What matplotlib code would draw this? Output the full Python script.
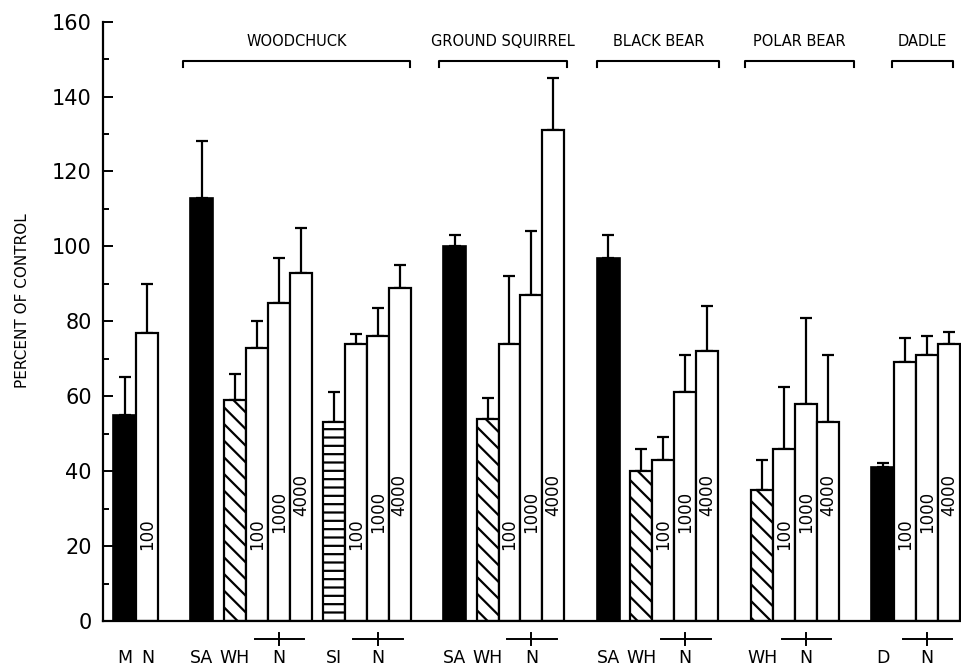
import numpy as np
import matplotlib
matplotlib.use('Agg')
import matplotlib.pyplot as plt

plt.rcParams['font.family'] = 'DejaVu Sans'
plt.rcParams['hatch.linewidth'] = 1.6
plt.rcParams['hatch.color'] = 'black'

# data
groups = ['control'] * 2 + ['WOODCHUCK'] * 9 + ['GROUND SQUIRREL'] * 5 + \
         ['BLACK BEAR'] * 5 + ['POLAR BEAR'] * 4 + ['DADLE'] * 4
bar_types = ['M', 'N',
             'SA', 'WH', 'N', 'N', 'N', 'SI', 'N', 'N', 'N',
             'SA', 'WH', 'N', 'N', 'N',
             'SA', 'WH', 'N', 'N', 'N',
             'WH', 'N', 'N', 'N',
             'D', 'N', 'N', 'N']
doses = ['', '100',
         '', '', '100', '1000', '4000', '', '100', '1000', '4000',
         '', '', '100', '1000', '4000',
         '', '', '100', '1000', '4000',
         '', '100', '1000', '4000',
         '', '100', '1000', '4000']
values = [55, 77,
          113, 59, 73, 85, 93, 53, 74, 76, 89,
          100, 54, 74, 87, 131,
          97, 40, 43, 61, 72,
          35, 46, 58, 53,
          41, 69, 71, 74]
errors = [10, 13,
          15, 7, 7, 12, 12, 8, 2.5, 7.5, 6,
          3, 5.5, 18, 17, 14,
          6, 6, 6, 10, 12,
          8, 16.5, 23, 18,
          1.2, 6.5, 5, 3.2]
group_names = ['WOODCHUCK', 'GROUND SQUIRREL', 'BLACK BEAR', 'POLAR BEAR', 'DADLE']

# x layout: adjacent bars touch, gap inside a group, wider gap between groups
x = [1.0]
for i in range(1, len(values)):
    if groups[i] != groups[i - 1]:
        step = 2.5
    elif bar_types[i] != 'N' and bar_types[i - 1] != 'N' or (bar_types[i] == 'SI'):
        step = 1.5
    else:
        step = 1.0
    x.append(x[-1] + step)
x = np.array(x)

# bracket overhang (left, right) relative to first/last bar centre
bracket_pad = {'WOODCHUCK': (0.85, 0.45), 'GROUND SQUIRREL': (0.7, 0.6),
               'BLACK BEAR': (0.5, 0.55), 'POLAR BEAR': (0.8, 1.2),
               'DADLE': (-0.4, 0.2)}

fig = plt.figure(figsize=(9.61, 6.66), dpi=100)
ax = fig.add_axes([0.1072, 0.0676, 0.8928, 0.9])
ax.set_xlim(0, 39.05)
ax.set_ylim(0, 160)

for xi, v, e, t, d in zip(x, values, errors, bar_types, doses):
    if t in ('M', 'SA', 'D'):
        ax.bar(xi, v, width=1.05, color='black', edgecolor='black', lw=1.2, zorder=2)
    elif t == 'WH':
        ax.bar(xi, v, width=1.0, color='white', edgecolor='black', lw=1.6,
               hatch='\\\\', zorder=2)
    elif t == 'SI':
        ax.bar(xi, v, width=1.0, color='white', edgecolor='black', lw=1.6,
               hatch='--', zorder=2)
    else:
        ax.bar(xi, v, width=1.0, color='white', edgecolor='black', lw=1.6, zorder=2)
    ax.errorbar(xi, v, yerr=[[0], [e]], fmt='none', ecolor='black',
                elinewidth=1.6, capsize=4.3, capthick=1.6, zorder=1)
    if d:
        off = {'100': 19, '1000': 23.5, '4000': 28}[d]
        ax.text(xi, off, d, rotation=90, ha='center', va='bottom',
                fontsize=12, zorder=3)

# x labels under the bars
xl = dict(clip_on=False, ha='center', va='top', fontsize=12.5)
i = 0
while i < len(values):
    t = bar_types[i]
    if t == 'N' and i + 2 < len(values) and doses[i] == '100' and doses[i + 1] == '1000':
        xm = x[i + 1]
        ax.text(xm, -7.4, 'N', **xl)
        ax.plot([x[i] - 0.1, x[i + 2] + 0.15], [-4.8, -4.8], color='black', lw=1.4,
                clip_on=False)
        ax.plot([xm, xm], [-3.2, -6.4], color='black', lw=1.4, clip_on=False)
        i += 3
    else:
        ax.text(x[i] + (0.05 if t == 'N' else 0), -7.4, t, **xl)
        i += 1

# species brackets
for name in group_names:
    idx = [k for k, g in enumerate(groups) if g == name]
    left = x[idx[0]] - bracket_pad[name][0]
    right = x[idx[-1]] + bracket_pad[name][1]
    ax.plot([left, left, right, right], [147.8, 149.4, 149.4, 147.8],
            color='black', lw=1.5, clip_on=False)
    ax.text((left + right) / 2, 154.6, name, ha='center', va='center',
            fontsize=10.5)

ax.spines['top'].set_visible(False)
ax.spines['right'].set_visible(False)
ax.spines['left'].set_linewidth(1.6)
ax.spines['bottom'].set_linewidth(1.6)
ax.set_xticks([])
ax.set_yticks(np.arange(0, 161, 20))
ax.set_yticks(np.arange(10, 160, 20), minor=True)
ax.tick_params(axis='y', which='major', direction='in', length=7, width=1.4,
               labelsize=15, pad=8)
ax.tick_params(axis='y', which='minor', direction='in', length=4, width=1.4)
ax.set_ylabel('PERCENT OF CONTROL', fontsize=11)
ax.yaxis.set_label_coords(-0.085, 0.535)

fig.savefig('out.png', dpi=100)
